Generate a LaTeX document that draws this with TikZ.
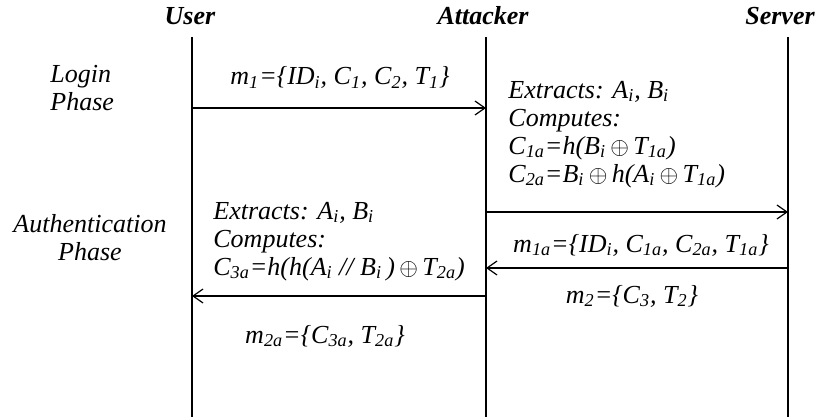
\documentclass[tikz,border=0pt]{standalone}
\usepackage{fontspec}
\setmainfont{Liberation Serif}
\usetikzlibrary{positioning, arrows.meta}

\newcommand{\sbs}[1]{\textsubscript{#1}}
\newcommand{\xo}{$\oplus$}

\begin{document}
\begin{tikzpicture}[
  x=0.5pt, y=-0.5pt,
  font=\fontsize{13}{14}\selectfont\itshape,
  actor/.style={font=\fontsize{13}{14}\selectfont\bfseries\itshape, anchor=base},
  lifeline/.style={line width=0.6pt},
  msg/.style={line width=0.6pt, -{Straight Barb[length=5pt,width=7pt]}},
  label/.style={anchor=base, inner sep=0pt},
  note/.style={anchor=base west, align=left, inner sep=0pt},
  phase/.style={anchor=base, align=center, inner sep=0pt}
]
\useasboundingbox (0,0) rectangle (818,417);

% actors
\node[actor] (user) at (190,25) {User};
\node[actor] (attacker) at (483,25) {Attacker};
\node[actor] (server) at (780,25) {Server};

\coordinate (utop) at (192,37);  \coordinate (ubot) at (192,417);
\coordinate (atop) at (486,37);  \coordinate (abot) at (486,417);
\coordinate (stop) at (788,37);  \coordinate (sbot) at (788,417);
\draw[lifeline] (utop) -- (ubot);
\draw[lifeline] (atop) -- (abot);
\draw[lifeline] (stop) -- (sbot);

% phases (anchored on the last line)
\node[note] (login) at (50,111) {Login\\Phase};
\node[phase] (auth) at (90,260) {Authentication\\Phase};

% message points on the lifelines
\coordinate (u1) at (192,108);  \coordinate (a1) at (486,108);
\coordinate (a2) at (486,212);  \coordinate (s2) at (788,212);
\coordinate (s3) at (788,268);  \coordinate (a3) at (486,268);
\coordinate (a4) at (486,296);  \coordinate (u4) at (192,296);

\draw[msg] (u1) -- (a1);
\draw[msg] (a2) -- (s2);
\draw[msg] (s3) -- (a3);
\draw[msg] (a4) -- (u4);

% message labels
\node[label] (m1) at (340,85)
  {m\sbs{1}=\{ID\sbs{i}, C\sbs{1}, C\sbs{2}, T\sbs{1}\}};
\node[label] (m1a) at (641,252)
  {m\sbs{1a}=\{ID\sbs{i}, C\sbs{1a}, C\sbs{2a}, T\sbs{1a}\}};
\node[label] (m2) at (632,303)
  {m\sbs{2}=\{C\sbs{3}, T\sbs{2}\}};
\node[label] (m2a) at (325,343)
  {m\sbs{2a}=\{C\sbs{3a}, T\sbs{2a}\}};

% computations (anchored on the last line)
\node[note] (atkcomp) at (508,182)
  {Extracts: A\sbs{i}, B\sbs{i}\\
   Computes:\\
   C\sbs{1a}=h(B\sbs{i}\,\xo\,T\sbs{1a})\\
   C\sbs{2a}=B\sbs{i}\,\xo\,h(A\sbs{i}\,\xo\,T\sbs{1a})};
\node[note] (usrcomp) at (213,275)
  {Extracts: A\sbs{i}, B\sbs{i}\\
   Computes:\\
   C\sbs{3a}=h(h(A\sbs{i} // B\sbs{i}\,)\,\xo\,T\sbs{2a})};
\end{tikzpicture}
\end{document}
